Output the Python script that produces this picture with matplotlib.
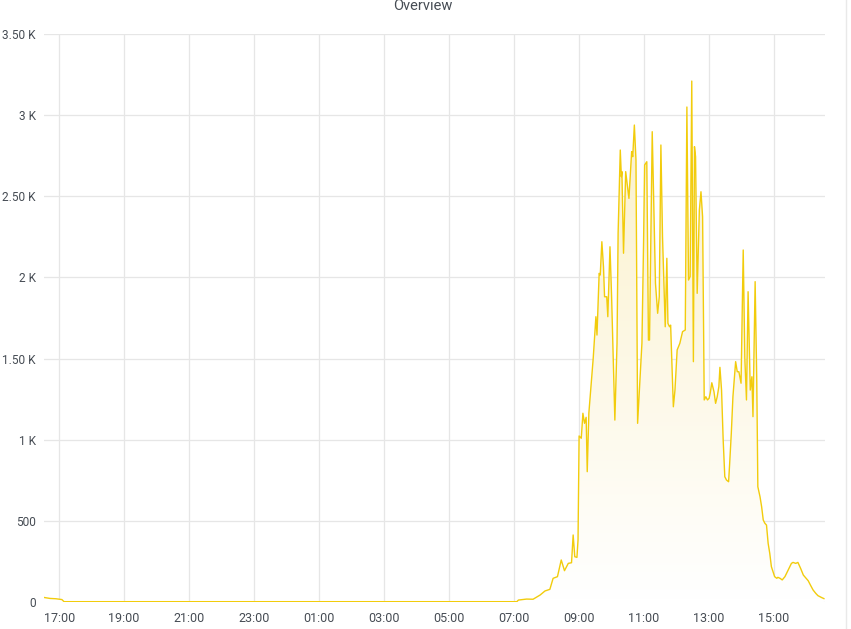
import numpy as np
import pandas as pd
import matplotlib
matplotlib.use("Agg")
import matplotlib.pyplot as plt
import matplotlib.dates as mdates
import matplotlib.ticker as mticker
from matplotlib.colors import LinearSegmentedColormap

# --- data (time of day, value) ---
horas = [
    "16:32", "16:43", "16:54", "17:05", "17:09", "07:05", "07:08", "07:23", "07:35",
    "07:48", "07:57", "08:06", "08:12", "08:20", "08:27", "08:33", "08:40", "08:46",
    "08:49", "08:52", "08:56", "08:58", "09:00", "09:04", "09:07", "09:10", "09:13",
    "09:15", "09:18", "09:20", "09:26", "09:31", "09:33", "09:37", "09:39", "09:42",
    "09:45", "09:47", "09:51", "09:53", "09:57", "10:00", "10:06", "10:10", "10:12",
    "10:16", "10:18", "10:19", "10:22", "10:26", "10:32", "10:37", "10:39", "10:42",
    "10:45", "10:48", "10:51", "10:56", "10:59", "11:01", "11:05", "11:08", "11:10",
    "11:15", "11:21", "11:25", "11:28", "11:31", "11:34", "11:39", "11:42", "11:44",
    "11:47", "11:49", "11:54", "11:57", "12:01", "12:06", "12:11", "12:16", "12:19",
    "12:22", "12:25", "12:28", "12:31", "12:33", "12:35", "12:38", "12:42", "12:45",
    "12:48", "12:51", "12:54", "12:57", "13:00", "13:02", "13:05", "13:09", "13:12",
    "13:15", "13:18", "13:20", "13:23", "13:26", "13:29", "13:32", "13:36", "13:38",
    "13:41", "13:44", "13:49", "13:52", "13:55", "13:59", "14:03", "14:06", "14:09",
    "14:12", "14:16", "14:19", "14:21", "14:25", "14:28", "14:30", "14:34", "14:37",
    "14:40", "14:43", "14:46", "14:49", "14:52", "14:55", "14:58", "15:01", "15:05",
    "15:07", "15:11", "15:15", "15:20", "15:26", "15:32", "15:35", "15:40", "15:44",
    "15:49", "15:54", "15:59", "16:03", "16:07", "16:12", "16:17", "16:21", "16:28",
    "16:32",
]
valores = [
    28, 22, 20, 15, 2, 2, 12, 18, 17,
    43, 68, 78, 146, 156, 259, 193, 238, 242,
    413, 279, 275, 382, 1023, 1009, 1163, 1101, 1138,
    803, 1164, 1250, 1500, 1758, 1645, 2025, 2015, 2220,
    2066, 1881, 1881, 1758, 2189, 1881, 1121, 1594, 2272,
    2785, 2621, 2652, 2149, 2652, 2487, 2775, 2744, 2939,
    2724, 1101, 1286, 1596, 2212, 2693, 2713, 1614, 1614,
    2898, 1964, 1779, 1881, 2816, 2251, 1696, 2118, 1717,
    1696, 1706, 1203, 1306, 1553, 1594, 1666, 1676, 3050,
    1984, 2005, 3210, 1481, 2806, 2744, 1902, 2415, 2528,
    2374, 1245, 1265, 1245, 1255, 1286, 1351, 1296, 1224,
    1265, 1327, 1446, 1306, 998, 772, 752, 741, 855,
    1040, 1265, 1481, 1419, 1419, 1348, 2169, 1500, 1245,
    1912, 1306, 1388, 1142, 1974, 1368, 710, 649, 587,
    505, 485, 474, 362, 300, 218, 187, 156, 146,
    152, 146, 136, 156, 197, 238, 244, 238, 244,
    207, 166, 146, 131, 105, 74, 53, 39, 27,
    21,
]

y_ticks = [0, 500, 1000, 1500, 2000, 2500, 3000, 3500]
y_labels = ["0", "500", "1 K", "1.50 K", "2 K", "2.50 K", "3 K", "3.50 K"]

COR_LINHA = "#F2CC0C"
COR_GRADE = "#E6E6E6"
COR_TEXTO = "#464C54"

plt.rcParams["font.family"] = ["Roboto", "DejaVu Sans"]


def montar_tempos(horas):
    # horas cross midnight: bump the day when the clock goes backwards
    base = pd.Timestamp("2020-01-01")
    out, dia, anterior = [], 0, None
    for h in horas:
        t = pd.Timedelta(hours=int(h[:2]), minutes=int(h[3:]))
        if anterior is not None and t < anterior:
            dia += 1
        anterior = t
        out.append(base + pd.Timedelta(days=dia) + t)
    return pd.DatetimeIndex(out)


tempos = montar_tempos(horas)
xs = mdates.date2num(tempos.to_pydatetime())
ys = np.array(valores, dtype=float)

W, H = 851, 629
fig = plt.figure(figsize=(W / 100, H / 100), dpi=100)
ax = fig.add_axes([44 / W, 1 - 602 / H, (825 - 44) / W, (602 - 34) / H])

x0 = mdates.date2num(pd.Timestamp("2020-01-01 16:32").to_pydatetime())
x1 = mdates.date2num(pd.Timestamp("2020-01-02 16:34").to_pydatetime())
ax.set_xlim(x0, x1)
ax.set_ylim(0, 3500)

# gradient fill under the line
cmap = LinearSegmentedColormap.from_list("amarelo", ["#FFFFFF", "#FAEEC0"])
grad = np.linspace(0, 1, 256).reshape(-1, 1)
img = ax.imshow(grad, extent=[x0, x1, 0, 3500], origin="lower", aspect="auto",
                cmap=cmap, vmin=0, vmax=1.05, zorder=1)
poly = ax.fill_between(xs, 0, ys, facecolor="none", edgecolor="none")
caminho = poly.get_paths()[0]
img.set_clip_path(caminho, transform=ax.transData)

ax.plot(xs, ys, color=COR_LINHA, linewidth=1.0, zorder=3)

ax.set_yticks(y_ticks)
ax.yaxis.set_major_formatter(mticker.FixedFormatter(y_labels))
ax.xaxis.set_major_locator(mdates.HourLocator(byhour=range(1, 24, 2)))
ax.xaxis.set_major_formatter(mdates.DateFormatter("%H:%M"))

ax.grid(True, color=COR_GRADE, linewidth=0.9, zorder=0)
ax.set_axisbelow(True)
for s in ax.spines.values():
    s.set_visible(False)
ax.tick_params(length=0, labelsize=9, colors=COR_TEXTO)
ax.tick_params(axis="y", pad=6, labelsize=8.6)
ax.tick_params(axis="x", pad=7)

fig.text(423 / W, 1 - 10 / H, "Overview", ha="center", va="baseline",
         fontsize=10.5, color=COR_TEXTO)
fig.add_artist(plt.Line2D([846 / W, 846 / W], [0, 1], color="#E9E9E9",
                          linewidth=1, transform=fig.transFigure))

fig.savefig("out.png", dpi=100)
